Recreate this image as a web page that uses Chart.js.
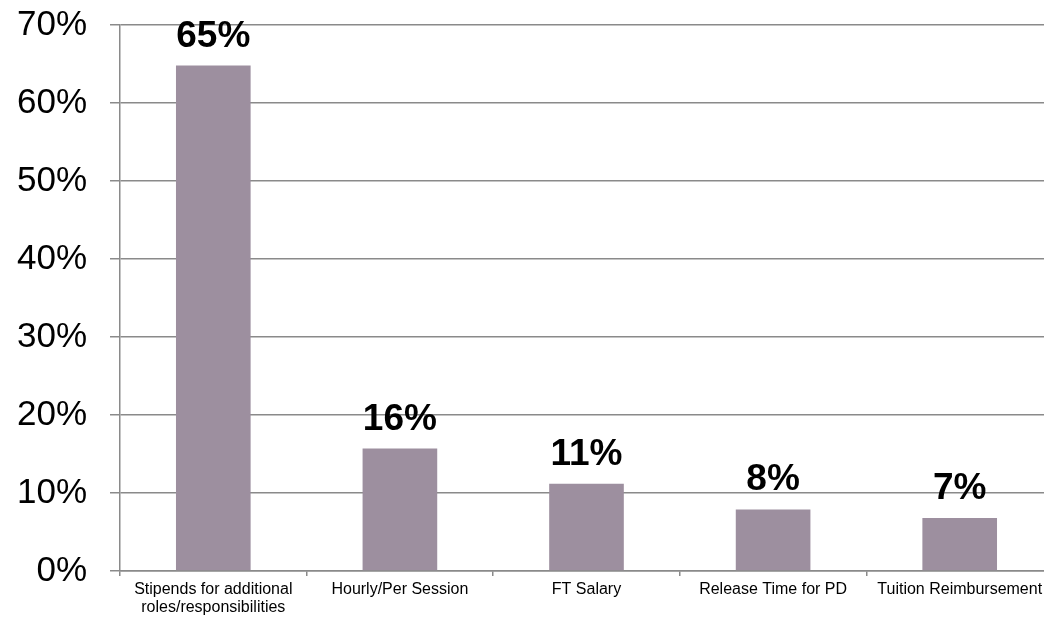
<!DOCTYPE html>
<html>
<head>
<meta charset="utf-8">
<script src="https://cdn.jsdelivr.net/npm/chart.js@4/dist/chart.umd.min.js"></script>
<style>
html,body{margin:0;padding:0;overflow:hidden;background:#fff;}
#wrap{width:1056px;height:618px;}
</style>
</head>
<body>
<div id="wrap"><canvas id="c" width="1056" height="618"></canvas></div>
<script>
const categories = [["Stipends for additional","roles/responsibilities"],"Hourly/Per Session","FT Salary","Release Time for PD","Tuition Reimbursement"];
const values = [0.648, 0.157, 0.112, 0.079, 0.068];
const valueLabels = ["65%","16%","11%","8%","7%"];
const yTickMax = 0.7;
const yTickStep = 0.1;

const gridColor = '#8a8a8a';
const font = '"Liberation Sans", Arial, sans-serif';

const dataLabelPlugin = {
  id: 'dataLabels',
  afterDatasetsDraw(chart) {
    const ctx = chart.ctx;
    const meta = chart.getDatasetMeta(0);
    ctx.save();
    ctx.font = 'bold 37px ' + font;
    ctx.fillStyle = '#000';
    ctx.textAlign = 'center';
    ctx.textBaseline = 'alphabetic';
    meta.data.forEach((bar, i) => {
      ctx.fillText(valueLabels[i], bar.x, bar.y - 19);
    });
    ctx.restore();
  }
};

new Chart(document.getElementById('c'), {
  type: 'bar',
  data: {
    labels: categories,
    datasets: [{
      data: values,
      backgroundColor: '#9d8f9f',
      borderWidth: 0,
      categoryPercentage: 1,
      barPercentage: 0.4
    }]
  },
  options: {
    responsive: false,
    animation: false,
    layout: { padding: { top: 25, right: 3, bottom: 0, left: 0 } },
    plugins: { legend: { display: false }, tooltip: { enabled: false } },
    scales: {
      x: {
        afterFit(s) { s.height = 47; s.paddingLeft = 0; s.paddingRight = 0; },
        grid: { offset: true, drawOnChartArea: false, drawTicks: true, tickLength: 5, color: gridColor, lineWidth: 1.5 },
        border: { display: true, color: gridColor, width: 1.5 },
        ticks: { color: '#000', font: { family: font, size: 16, lineHeight: 1.1 }, padding: 5, maxRotation: 0, autoSkip: false }
      },
      y: {
        min: 0,
        max: yTickMax,
        afterFit(s) { s.width = 120; s.paddingTop = 0; s.paddingBottom = 0; },
        grid: { color: gridColor, lineWidth: 1.5, tickLength: 10 },
        border: { display: true, color: gridColor, width: 1.5 },
        ticks: {
          stepSize: yTickStep,
          color: '#000',
          font: { family: font, size: 35 },
          padding: 23,
          callback: v => Math.round(v * 100) + '%'
        }
      }
    }
  },
  plugins: [dataLabelPlugin]
});
</script>
</body>
</html>
